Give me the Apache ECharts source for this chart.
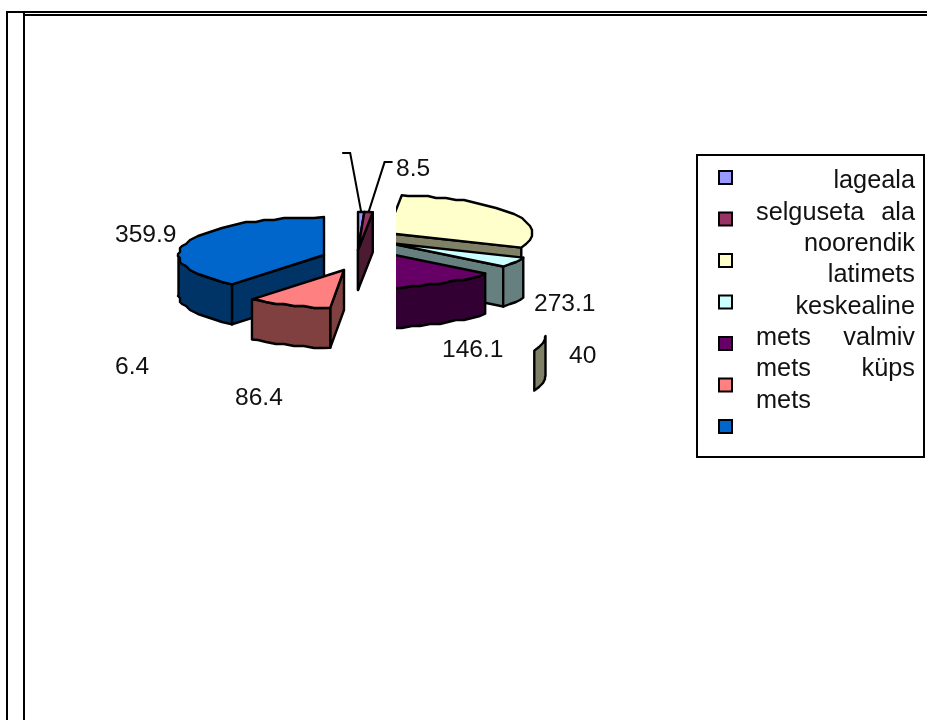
<!DOCTYPE html>
<html>
<head>
<meta charset="utf-8">
<style>html,body{margin:0;padding:0;background:#fff}#chart{width:927px;height:720px}</style>
<script src="https://cdn.jsdelivr.net/npm/echarts@6/dist/echarts.min.js"></script>
</head>
<body>
<div id="chart"></div>
<script>
// Forest area by development class
const categories = ['lageala', 'selguseta ala', 'noorendik', 'latimets', 'keskealine mets', 'valmiv mets', 'küps mets'];
const values = [6.4, 8.5, 273.1, 40, 146.1, 86.4, 359.9];
const colors = ['#9999FF', '#993366', '#FFFFCC', '#CCFFFF', '#660066', '#FF8080', '#0066CC'];
const sideColors = ['#4D4D80', '#4D1A33', '#808066', '#668080', '#330033', '#804040', '#003366'];

// Legend text as it wraps inside the box: one word sits flush, two words are justified
const legendLines = [['lageala'], ['selguseta', 'ala'], ['noorendik'], ['latimets'], ['keskealine'], ['mets', 'valmiv'], ['mets', 'küps'], ['mets', '']];

// Exploded position of each slice, label anchors and stacking order
const sliceCentres = [[358, 250], [358, 250], [387, 233], [389, 243], [371, 250], [344, 270], [324, 255]];
const labelAnchors = [[115, 367, 'left'], [396, 169, 'left'], [534, 304, 'left'], [569, 356, 'left'], [442, 350, 'left'], [235, 398, 'left'], [115, 235, 'left']];
const stacking = [6, 7, 1, 2, 3, 5, 4];
const clipFrom = [null, null, 396, 396, 396, null, null];
const wallShift = [null, null, [13, 103], null, null, null, null];
const leaders = [[[-11, -59], [-19, -59]], [[16, -50], [24, -50]], null, null, null, null, null];

const RX = 145.5, RY = 38, DEPTH = 40;
const FONT = '"Liberation Sans", Arial, sans-serif';
const VALUE_SIZE = 24.6;
const LEGEND_SIZE = 25.3;
const STROKE = 2.4;

const total = values.reduce((a, b) => a + b, 0);
const rad = d => d * Math.PI / 180;
const startAngles = values.map((_, i) => values.slice(0, i).reduce((a, b) => a + b, 0) / total * 360);

function onEllipse(c, deg) {
  return [c[0] + RX * Math.sin(rad(deg)), c[1] - RY * Math.cos(rad(deg))];
}
// Arc as a coarse polyline snapped to a pixel grid, giving the stepped outline
function arcPoints(c, a0, a1) {
  const pts = [onEllipse(c, a0)];
  const step = 4;
  for (let a = Math.ceil(a0 / step + 0.3) * step; a < a1 - step * 0.3; a += step) {
    const p = onEllipse(c, a);
    pts.push([Math.round(p[0] / 2) * 2, Math.round(p[1] / 2) * 2]);
  }
  pts.push(onEllipse(c, a1));
  return pts;
}
function down(pts, d) { return pts.map(p => [p[0] + (d[0] || 0), p[1] + d[1]]); }
function poly(points, fill) {
  return { type: 'polygon', shape: { points }, style: { fill, stroke: '#000', lineWidth: STROKE, lineJoin: 'round' } };
}

function renderSlice(i, api) {
  const value = api.value(0);
  const a0 = startAngles[i];
  const a1 = a0 + value / total * 360;
  const c = sliceCentres[i];
  const side = sideColors[i];
  const shapes = [];
  const cutWall = deg => {
    const o = onEllipse(c, deg);
    return poly([c, o, [o[0], o[1] + DEPTH], [c[0], c[1] + DEPTH]], side);
  };
  // Straight cut faces that turn towards the viewer
  if (Math.cos(rad(a0 - 90)) < -0.01) shapes.push(cutWall(a0));
  if (Math.cos(rad(a1 + 90)) < -0.01) shapes.push(cutWall(a1));
  // Curved rim on the near half of the ellipse
  const w0 = Math.max(a0, 90), w1 = Math.min(a1, 270);
  if (w1 > w0) {
    const rim = arcPoints(c, w0, w1);
    const shift = wallShift[i] || [0, 0];
    const topEdge = down(rim, shift);
    const lowEdge = down(rim, [shift[0], shift[1] + DEPTH]).reverse();
    shapes.push(poly(topEdge.concat(lowEdge), side));
  }
  shapes.push(poly([c].concat(arcPoints(c, a0, a1)), colors[i]));

  const body = { type: 'group', children: shapes };
  if (clipFrom[i] !== null) {
    body.clipPath = { type: 'rect', shape: { x: clipFrom[i], y: 0, width: 927 - clipFrom[i], height: 720 } };
  }
  const a = labelAnchors[i];
  const children = [body, {
    type: 'text',
    style: { x: a[0], y: a[1], text: String(value), fill: '#111', font: VALUE_SIZE + 'px ' + FONT, align: a[2], verticalAlign: 'middle' }
  }];
  if (leaders[i]) {
    const o = onEllipse(c, (a0 + a1) / 2);
    const pts = [o].concat(leaders[i].map(d => [o[0] + d[0], o[1] + d[1]]));
    children.push({ type: 'polyline', shape: { points: pts }, style: { fill: null, stroke: '#000', lineWidth: 2 } });
  }
  return { type: 'group', children };
}

// Table rules round the cell and the legend frame
const rule = (x1, y1, x2, y2) => ({ type: 'line', shape: { x1, y1, x2, y2 }, style: { stroke: '#000', lineWidth: 2 } });
const graphics = [
  rule(6, 12, 927, 12), rule(24, 15, 927, 15), rule(7, 11, 7, 720), rule(24, 11, 24, 720),
  { type: 'rect', shape: { x: 697, y: 155, width: 227, height: 302 }, style: { fill: '#fff', stroke: '#000', lineWidth: 2 }, z: 1 }
];
legendLines.forEach((words, n) => {
  const y = 181.5 + n * 31.3;
  const text = (t, x, align) => ({ type: 'text', z: 2, style: { x, y, text: t, align, verticalAlign: 'middle', fill: '#111', font: LEGEND_SIZE + 'px ' + FONT } });
  if (words.length === 1) graphics.push(text(words[0], 915, 'right'));
  else {
    graphics.push(text(words[0], 756, 'left'));
    if (words[1]) graphics.push(text(words[1], 915, 'right'));
  }
});

const chart = echarts.init(document.getElementById('chart'), null, { renderer: 'canvas' });
chart.setOption({
  animation: false,
  backgroundColor: '#fff',
  graphic: graphics,
  legend: {
    left: 718, top: 170, orient: 'vertical', padding: 0,
    itemWidth: 13, itemHeight: 13, itemGap: 26.5,
    selectedMode: false, z: 10,
    icon: 'rect',
    itemStyle: { borderColor: '#000', borderWidth: 2 },
    formatter: () => '',
    data: categories
  },
  series: categories.map((name, i) => ({
    type: 'custom',
    name,
    coordinateSystem: 'none',
    z: 2 + stacking[i],
    silent: true,
    clip: false,
    itemStyle: { color: colors[i] },
    data: [[values[i]]],
    renderItem: (params, api) => renderSlice(i, api)
  }))
});
</script>
</body>
</html>
